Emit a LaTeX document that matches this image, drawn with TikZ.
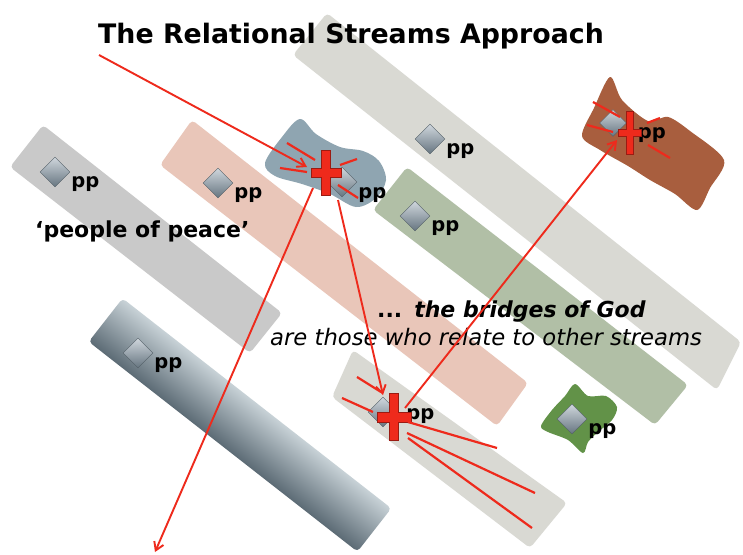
\documentclass[tikz,border=0pt]{standalone}
\usepackage{fontspec}
\setmainfont{DejaVu Sans}
\definecolor{streamgrey}{RGB}{217, 217, 211}
\definecolor{streamsilver}{RGB}{201, 201, 201}
\definecolor{streampink}{RGB}{233, 198, 185}
\definecolor{streamsage}{RGB}{177, 191, 166}
\definecolor{slatedark}{RGB}{92, 107, 117}
\definecolor{slatelight}{RGB}{200, 210, 215}
\definecolor{blobblue}{RGB}{143, 165, 177}
\definecolor{blobbrown}{RGB}{168, 94, 62}
\definecolor{blobgreen}{RGB}{98, 146, 72}
\definecolor{crossred}{RGB}{238, 42, 28}
\definecolor{pplight}{RGB}{208, 215, 221}
\definecolor{ppdark}{RGB}{102, 117, 128}
\usetikzlibrary{
  arrows.meta,
  calc,
  positioning,
  shapes.geometric,
}
\tikzset{
  >={Straight Barb[length=8pt,width=10pt]},
  pp/.style={draw=ppdark!80!black,diamond,aspect=1,minimum size=30pt,inner sep=0pt,top color=pplight,bottom color=ppdark},
  pptext/.style={font=\bfseries\fontsize{19.5}{20}\selectfont,inner sep=0pt},
  ray/.style={draw=crossred,line width=2.2pt},
  arrow/.style={draw=crossred,line width=1.9pt,->},
  crossbar/.style={draw=crossred!65!black,fill=crossred,rectangle,inner sep=0pt,line width=0.6pt},
  crossfill/.style={fill=crossred,rectangle,inner sep=0pt},
}
\begin{document}
\begin{tikzpicture}[x=1pt,y=-1pt]
        \useasboundingbox[fill=white] (0,0) rectangle (743,554);

        % streams
        \fill[streamgrey,rounded corners=4pt] (327,13) -- (741,342) -- (717,390) -- (293,55) -- cycle;
        \fill[streamsage,rounded corners=4pt] (407,167) -- (688,385) -- (655,425) -- (373,210) -- cycle;
        \fill[streampink,rounded corners=4pt] (192,120) -- (528,383) -- (497,426) -- (160,165) -- cycle;
        \fill[streamsilver,rounded corners=4pt] (43,125) -- (282,313) -- (250,353) -- (10,167) -- cycle;
        \shade[transform canvas={shift={(240,425)},rotate=-38},top color=slatelight,bottom color=slatedark,rounded corners=4pt] (-170.5,-27.5) rectangle (170.5,27.5);
        \fill[streamgrey,rounded corners=4pt] (353,350) -- (567,503) -- (530,548) -- (332,397) -- cycle;

        % small streams
        \fill[blobblue] plot[smooth cycle,tension=0.55] coordinates {(300,119) (316,134) (340,147) (363,151) (379,161) (386,180) (376,198) (356,207) (330,194) (302,184) (275,176) (265,163) (282,137)};
        \fill[blobbrown] plot[smooth cycle,tension=0.5] coordinates {(610,77) (622,100) (648,121) (668,117) (690,131) (724,160) (710,188) (697,210) (675,194) (650,180) (628,166) (600,150) (582,136) (594,108)};
        \fill[blobgreen] plot[smooth cycle,tension=0.5] coordinates {(575,384) (588,396) (606,396) (617,407) (612,420) (598,432) (588,442) (583,453) (568,440) (548,432) (541,426) (552,410) (565,396)};

        % people of peace
        \node[pp] (ppA) at (430,139) {};
        \node[pptext] (tA) [right=1pt of ppA, yshift=-12pt] {pp};
        \node[pp] (ppB) at (55,172) {};
        \node[pptext] (tB) [right=1pt of ppB, yshift=-12pt] {pp};
        \node[pp] (ppC) at (218,183) {};
        \node[pptext] (tC) [right=1pt of ppC, yshift=-12pt] {pp};
        \node[pp] (ppD) at (383,412) {};
        \node[pptext] (tD) [right=8pt of ppD, yshift=-4pt] {pp};
        \node[pp] (ppE) at (415,216) {};
        \node[pptext] (tE) [right=1pt of ppE, yshift=-12pt] {pp};
        \node[pp] (ppF) at (138,353) {};
        \node[pptext] (tF) [right=1pt of ppF, yshift=-12pt] {pp};
        \node[pp] (ppG) at (342,182) {};
        \node[pptext] (tG) [right=1pt of ppG, yshift=-13pt] {pp};
        \node[pp,minimum size=27pt] (ppH) at (613,123) {};
        \node[pptext] (tH) [right=11pt of ppH, yshift=-12pt] {pp};
        \node[pp] (ppI) at (572,419) {};
        \node[pptext] (tI) [right=1pt of ppI, yshift=-12pt] {pp};

        % texts
        \node[font=\bfseries\fontsize{26.8}{27}\selectfont,anchor=base west,inner sep=0pt] (title) at (98,43) {The Relational Streams Approach};
        \node[font=\bfseries\fontsize{22}{22}\selectfont,anchor=base west,inner sep=0pt] (peace) at (35,237) {‘people of peace’};
        \node[font=\bfseries\fontsize{22}{22}\selectfont,anchor=base west,inner sep=0pt] (bridges) at (377,317) {...\hspace{12pt}\textit{the bridges of God}};
        \node[font=\itshape\fontsize{22.7}{23}\selectfont,anchor=base west,inner sep=0pt] (relate) at (270,345) {are those who relate to other streams};

        % crosses
        \node[crossbar,minimum width=30pt,minimum height=9.5pt] (xGh) at (326,173) {};
        \node[crossbar,minimum width=8.5pt,minimum height=45pt] (xG) at (326,173) {};
        \node[crossfill,minimum width=29pt,minimum height=8.5pt] at (xG) {};
        \node[crossbar,minimum width=34pt,minimum height=10pt] (xDh) at (394,417) {};
        \node[crossbar,minimum width=8.5pt,minimum height=47pt] (xD) at (394,417) {};
        \node[crossfill,minimum width=33pt,minimum height=9pt] at (xD) {};
        \node[crossbar,minimum width=23pt,minimum height=7pt] (xHh) at (630,133) {};
        \node[crossbar,minimum width=6.5pt,minimum height=43pt] (xH) at (630,133) {};
        \node[crossfill,minimum width=22pt,minimum height=6pt] at (xH) {};

        % rays
        \draw[ray] ($(xG)+(-39,-30)$) -- ($(xG)+(-11,-13)$);
        \draw[ray] ($(xG)+(-46,-5)$) -- ($(xG)+(-19,-1)$);
        \draw[ray] ($(xG)+(14,-8)$) -- ($(xG)+(31,-14)$);
        \draw[ray] ($(xG)+(12,12)$) -- ($(xG)+(32,25)$);
        \draw[ray] ($(xD)+(-37,-40)$) -- ($(xD)+(-13,-25)$);
        \draw[ray] ($(xD)+(-52,-19)$) -- ($(xD)+(-21,-5)$);
        \draw[ray] ($(xD)+(14,5)$) -- ($(xD)+(103,31)$);
        \draw[ray] ($(xD)+(13,16)$) -- ($(xD)+(141,76)$);
        \draw[ray] ($(xD)+(14,21)$) -- ($(xD)+(138,111)$);
        \draw[ray] ($(xH)+(-37,-31)$) -- ($(xH)+(-10,-16)$);
        \draw[ray] ($(xH)+(-43,-8)$) -- ($(xH)+(-17,-1)$);
        \draw[ray] ($(xH)+(17,-10)$) -- ($(xH)+(30,-15)$);
        \draw[ray] ($(xH)+(18,12)$) -- ($(xH)+(40,25)$);

        % arrows
        \coordinate (src) at (99,55);
        \coordinate (sink) at (155,552);
        \draw[arrow] (src) -- ($(xG)+(-19,-6)$);
        \draw[arrow] ($(xG)+(-13,15)$) -- (sink);
        \draw[arrow] ($(xG)+(12,27)$) -- ($(xD)+(-11,-22)$);
        \draw[arrow] ($(xD)+(11,-9)$) -- ($(xH)+(-13,7)$);
    \end{tikzpicture}
\end{document}
